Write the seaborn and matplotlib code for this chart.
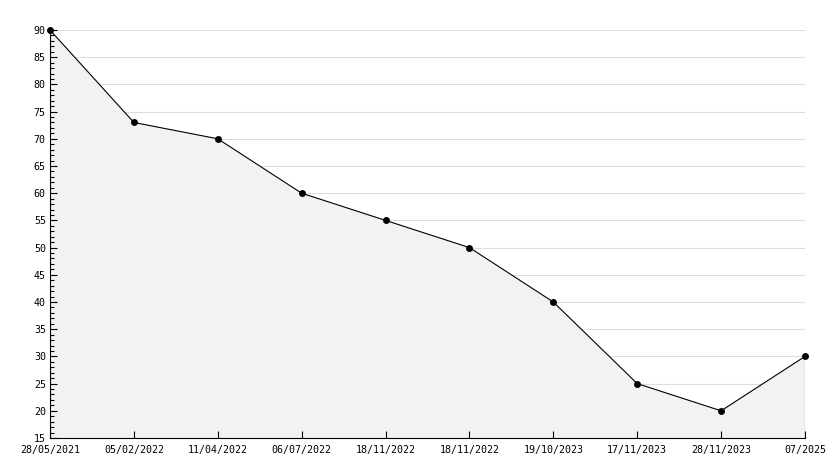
import matplotlib
matplotlib.use("Agg")
import matplotlib.pyplot as plt
import seaborn as sns
import pandas as pd
from matplotlib.ticker import MultipleLocator

dates = ["28/05/2021", "05/02/2022", "11/04/2022", "06/07/2022", "18/11/2022",
         "18/11/2022", "19/10/2023", "17/11/2023", "28/11/2023", "07/2025"]
values = [90, 73, 70, 60, 55, 50, 40, 25, 20, 30]

sns.set_style("white")
plt.rcParams['font.family'] = ['DejaVu Sans Mono', 'DejaVu Sans']

df = pd.DataFrame({"pos": list(range(len(dates))), "value": values})

fig = plt.figure(figsize=(8.34, 4.68), dpi=100)
ax = fig.add_axes([50/834, 1 - 438/468, (805 - 50)/834, (438 - 30)/468])

ax.set_xlim(0, len(dates) - 1)
ax.set_ylim(15, 90)
ax.yaxis.set_major_locator(MultipleLocator(5))
ax.yaxis.set_minor_locator(MultipleLocator(1))

# horizontal grid lines beneath the fill
for yv in ax.get_yticks():
    if 15 < yv <= 90:
        ax.axhline(yv, color="#dddddd", linewidth=0.8, zorder=0.5)

ax.fill_between(df["pos"], df["value"], 15, facecolor="#f2f2f2", edgecolor="none", zorder=1)
sns.lineplot(data=df, x="pos", y="value", ax=ax, color="black", linewidth=0.8,
             marker="o", markersize=5, markeredgewidth=0, zorder=3, clip_on=False)
ax.vlines(df["pos"].iloc[-1], 15, df["value"].iloc[-1], color="black", linewidth=0.8, zorder=3)

ax.set_xlim(0, len(dates) - 1)
ax.set_ylim(15, 90)
ax.set_xticks(df["pos"])
ax.set_xticklabels(dates)
ax.grid(False)
ax.set_axisbelow(False)
ax.set_xlabel("")
ax.set_ylabel("")

for s in ["top", "right"]:
    ax.spines[s].set_visible(False)
for s in ["left", "bottom"]:
    ax.spines[s].set_color("black")
    ax.spines[s].set_linewidth(0.8)

ax.tick_params(axis="y", which="major", direction="in", length=5, width=0.8, color="black",
               labelsize=7.2, labelcolor="black", pad=3, left=True)
ax.tick_params(axis="y", which="minor", direction="in", length=3, width=0.8, color="black",
               left=True, right=False)
ax.tick_params(axis="x", which="major", direction="in", length=5, width=0.8, color="black",
               labelsize=7.2, labelcolor="black", pad=5, bottom=True)
ax.tick_params(axis="x", which="minor", bottom=False, top=False)

fig.savefig("out.png", dpi=100)
